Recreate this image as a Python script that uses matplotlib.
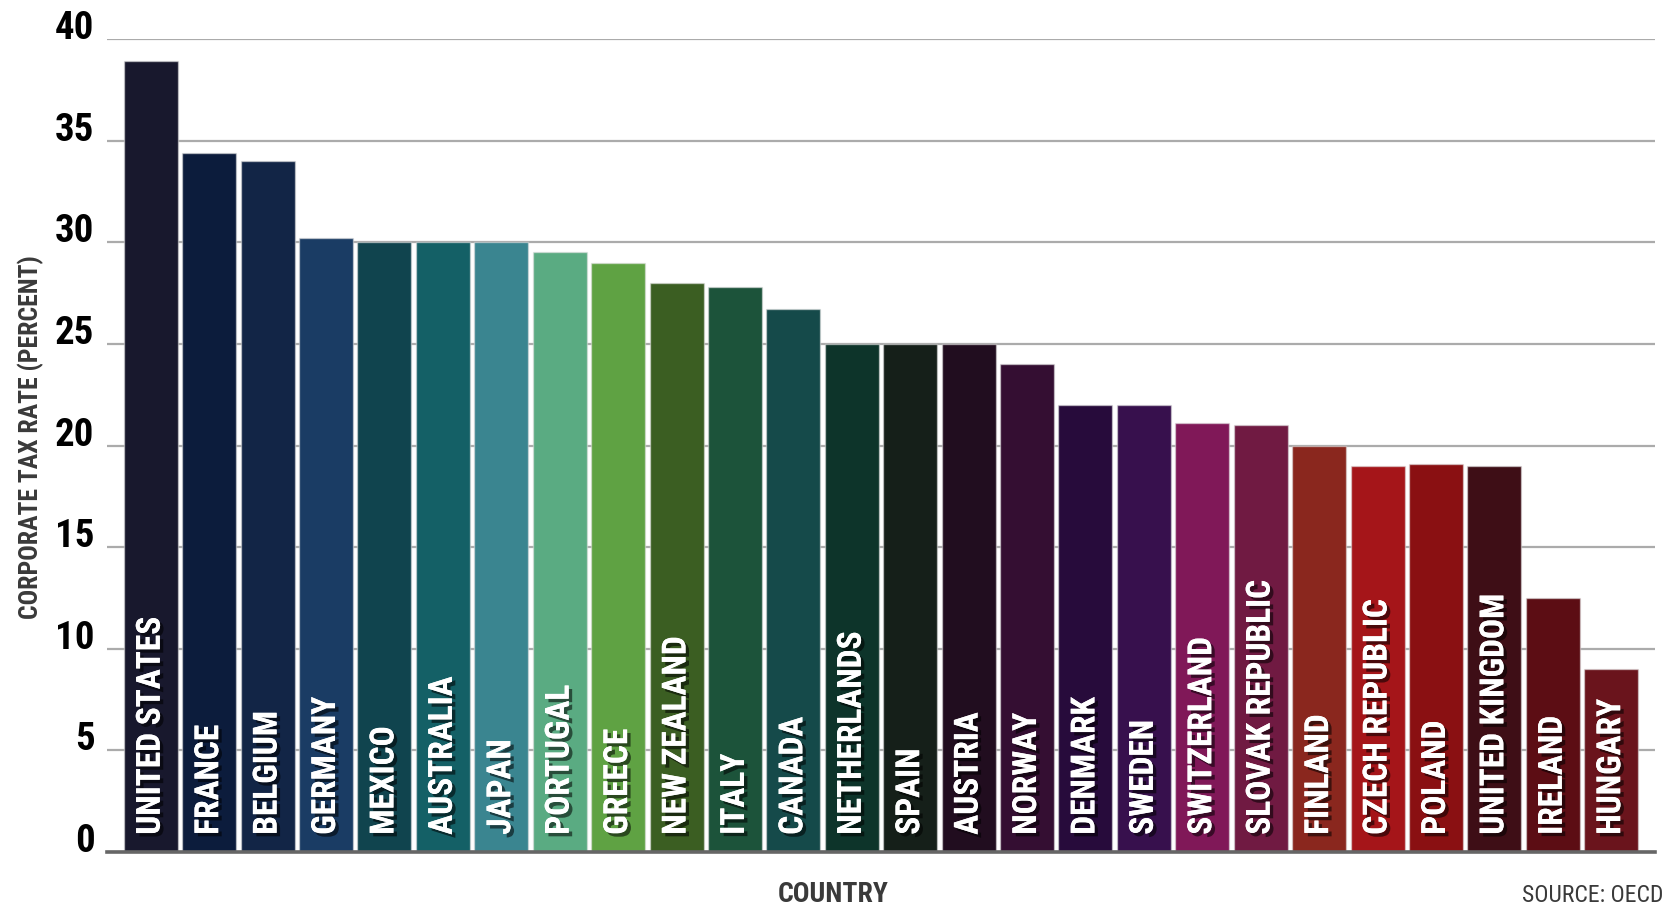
import matplotlib
matplotlib.use("Agg")
import matplotlib.pyplot as plt
import matplotlib.patheffects as pe
from matplotlib import font_manager

countries = ["UNITED STATES", "FRANCE", "BELGIUM", "GERMANY", "MEXICO", "AUSTRALIA",
             "JAPAN", "PORTUGAL", "GREECE", "NEW ZEALAND", "ITALY", "CANADA",
             "NETHERLANDS", "SPAIN", "AUSTRIA", "NORWAY", "DENMARK", "SWEDEN",
             "SWITZERLAND", "SLOVAK REPUBLIC", "FINLAND", "CZECH REPUBLIC", "POLAND",
             "UNITED KINGDOM", "IRELAND", "HUNGARY"]
rates = [38.9, 34.4, 34.0, 30.2, 30.0, 30.0, 30.0, 29.5, 29.0, 28.0, 27.8, 26.7,
         25.0, 25.0, 25.0, 24.0, 22.0, 22.0, 21.1, 21.0, 20.0, 19.0, 19.1, 19.0,
         12.5, 9.0]
bar_colors = ["#18182d", "#0c1c3c", "#122546", "#1a3c64", "#10444e", "#146066",
              "#3a8590", "#5aab82", "#5fa243", "#3b5e22", "#1c533a", "#154a4a",
              "#0d342a", "#151f19", "#210d1f", "#340e32", "#270b3b", "#37104d",
              "#801858", "#701a42", "#8a271e", "#a51519", "#8a1012", "#3e0e16",
              "#5c0d14", "#6a141c"]
yticks = [0, 5, 10, 15, 20, 25, 30, 35, 40]

names = {f.name for f in font_manager.fontManager.ttflist}
for cand in ["Liberation Sans Narrow", "Roboto Condensed", "Open Sans Condensed",
             "DejaVu Sans Condensed", "Roboto", "DejaVu Sans"]:
    if cand in names:
        FONT = cand
        break
plt.rcParams['font.family'] = [FONT, 'DejaVu Sans']

fig = plt.figure(figsize=(16.66, 9.10), dpi=100)
ax = fig.add_axes([0.0642, 0.0637, 0.9934 - 0.0642, 0.9571 - 0.0637])

x = list(range(len(countries)))
ax.bar(x, rates, width=0.925, color=bar_colors,
       edgecolor=(0.88, 0.88, 0.88, 0.55), linewidth=1.0, zorder=2)

ax.set_xlim(-0.75, len(countries) - 0.25)
ax.set_ylim(0, 40)
ax.set_yticks(yticks)
ax.set_yticklabels([str(t) for t in yticks], fontsize=28, fontweight='bold', color='black')
for lab in ax.get_yticklabels():
    lab.set_verticalalignment('baseline')
ax.tick_params(axis='y', length=0, pad=9)
ax.set_xticks([])
ax.yaxis.grid(True, color='#ababab', linewidth=1.6)
ax.set_axisbelow(True)
for s in ['top', 'right', 'left']:
    ax.spines[s].set_visible(False)
ax.spines['bottom'].set_color('#666666')
ax.spines['bottom'].set_linewidth(2.6)
ax.spines['bottom'].set_zorder(3)

shadow = [pe.withSimplePatchShadow(offset=(2.5, -2.5), shadow_rgbFace='black', alpha=0.55),
          pe.Normal()]
for xi, name in zip(x, countries):
    ax.text(xi, 0.85, name, rotation=90, ha='center', va='bottom', color='white',
            fontsize=24, fontweight='bold', zorder=4, path_effects=shadow)

fig.text(31 / 1666, 1 - 437 / 910, "CORPORATE TAX RATE (PERCENT)", rotation=90,
         ha='center', va='center', fontsize=18.5, fontweight='bold', color='#3a3a3a')
fig.text(0.5, 1 - 902 / 910, "COUNTRY", ha='center', va='baseline',
         fontsize=20, fontweight='bold', color='#3a3a3a')
fig.text(1663 / 1666, 1 - 902 / 910, "SOURCE: OECD", ha='right', va='baseline',
         fontsize=17, color='#3a3a3a')

fig.savefig("out.png", dpi=100)
